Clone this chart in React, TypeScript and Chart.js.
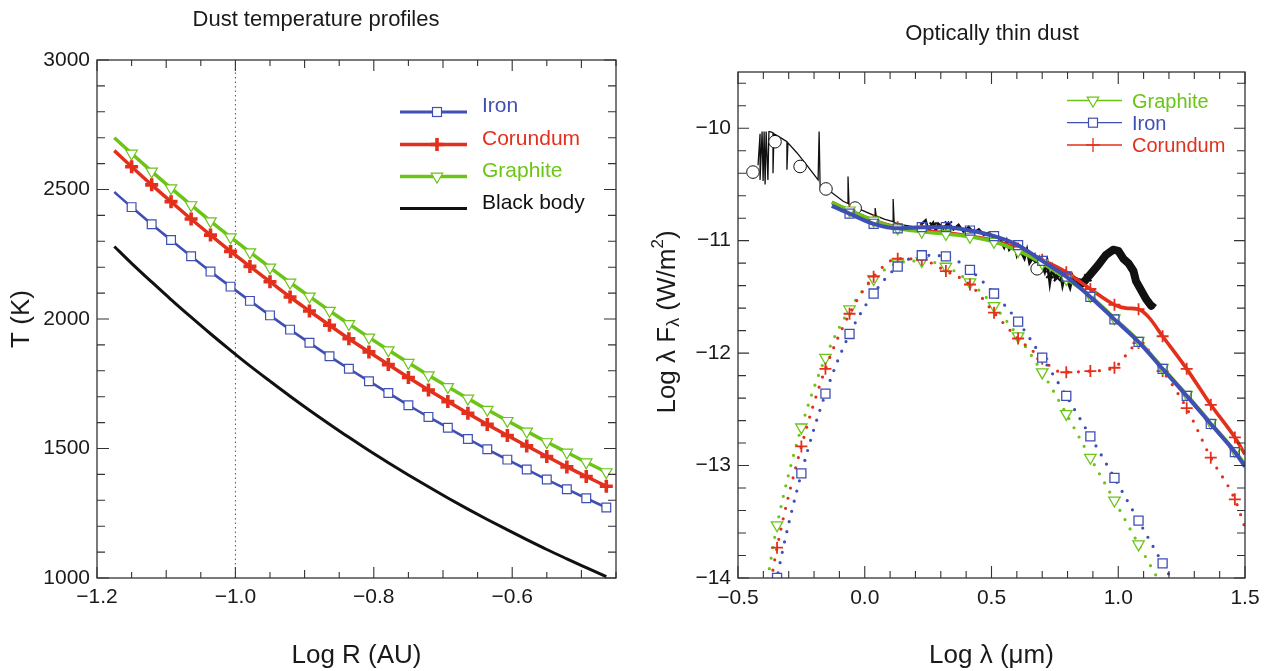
import React, { useEffect, useRef } from "react";
import { Chart, registerables } from "chart.js";

Chart.register(...registerables);

const FONT = "'Liberation Sans', Arial, Helvetica, sans-serif";
const TEXT = "#1a1a1a";
const AXIS = "#333333";
const BLUE = "#3f4fb3";
const RED = "#e3301c";
const GREEN = "#6bc416";
const BLACK = "#111111";

// ---------------- Left panel: Dust temperature profiles ----------------
const LOG_R = [-1.175, -1.15, -1.121, -1.093, -1.064, -1.036, -1.007, -0.979, -0.95, -0.921, -0.893, -0.864, -0.836, -0.807, -0.779, -0.75, -0.721, -0.693, -0.664, -0.636, -0.607, -0.579, -0.55, -0.521, -0.493, -0.464];
const T_IRON = [2490, 2432, 2366, 2305, 2242, 2183, 2125, 2070, 2014, 1959, 1908, 1856, 1808, 1760, 1714, 1667, 1622, 1580, 1537, 1497, 1457, 1419, 1380, 1343, 1308, 1272];
const T_CORUNDUM = [2650, 2588, 2518, 2453, 2386, 2324, 2261, 2203, 2144, 2085, 2031, 1976, 1924, 1873, 1824, 1774, 1726, 1681, 1636, 1593, 1550, 1510, 1469, 1429, 1392, 1354];
const T_GRAPHITE = [2700, 2639, 2570, 2505, 2440, 2378, 2316, 2258, 2199, 2141, 2087, 2032, 1981, 1929, 1880, 1831, 1783, 1738, 1693, 1650, 1607, 1566, 1525, 1485, 1447, 1409];
const T_BLACK_BODY = [2280, 2215, 2143, 2075, 2007, 1943, 1879, 1819, 1760, 1702, 1648, 1594, 1543, 1492, 1445, 1398, 1352, 1309, 1266, 1226, 1186, 1148, 1110, 1074, 1040, 1005];
const REF_LOG_R = -1.0;
const LEFT_X_TICKS = [-1.2, -1.0, -0.8, -0.6];
const LEFT_X_LABELS = ["−1.2", "−1.0", "−0.8", "−0.6"];
const LEFT_Y_TICKS = [1000, 1500, 2000, 2500, 3000];
const LEFT_Y_LABELS = ["1000", "1500", "2000", "2500", "3000"];

// ---------------- Right panel: Optically thin dust ----------------
const MODEL_X = [-0.13, -0.06, 0.035, 0.13, 0.225, 0.32, 0.415, 0.51, 0.605, 0.7, 0.795, 0.89, 0.985, 1.08, 1.175, 1.27, 1.365, 1.46, 1.5];
const GRAPHITE_TOTAL = [-10.66, -10.73, -10.82, -10.89, -10.92, -10.94, -10.965, -11.01, -11.09, -11.2, -11.34, -11.49, -11.69, -11.89, -12.13, -12.37, -12.62, -12.87, -12.99];
const IRON_TOTAL = [-10.69, -10.76, -10.85, -10.89, -10.88, -10.88, -10.91, -10.96, -11.04, -11.18, -11.32, -11.5, -11.7, -11.9, -12.14, -12.38, -12.63, -12.88, -13.01];
const CORUNDUM_TOTAL_X = [-0.13, -0.06, 0.035, 0.13, 0.225, 0.32, 0.415, 0.51, 0.605, 0.7, 0.795, 0.89, 0.985, 1.03, 1.08, 1.12, 1.175, 1.27, 1.365, 1.46, 1.5];
const CORUNDUM_TOTAL = [-10.66, -10.73, -10.82, -10.88, -10.91, -10.93, -10.96, -11.0, -11.07, -11.17, -11.28, -11.43, -11.57, -11.6, -11.61, -11.68, -11.85, -12.14, -12.46, -12.75, -12.9];

const DUST_X = [-0.39, -0.346, -0.25, -0.155, -0.06, 0.035, 0.13, 0.225, 0.32, 0.415, 0.51, 0.605, 0.7, 0.795, 0.89, 0.985, 1.08, 1.175, 1.27];
const GRAPHITE_DUST = [-14.1, -13.53, -12.66, -12.04, -11.61, -11.34, -11.2, -11.18, -11.23, -11.37, -11.58, -11.85, -12.17, -12.54, -12.93, -13.31, -13.7, -14.08, -14.45];
const IRON_DUST = [-14.6, -14.0, -13.07, -12.36, -11.83, -11.47, -11.23, -11.13, -11.14, -11.26, -11.47, -11.72, -12.04, -12.38, -12.74, -13.11, -13.49, -13.87, -14.25];
const CORUNDUM_DUST_X = [-0.39, -0.346, -0.25, -0.155, -0.06, 0.035, 0.13, 0.225, 0.32, 0.415, 0.51, 0.605, 0.7, 0.75, 0.795, 0.89, 0.985, 1.03, 1.08, 1.175, 1.27, 1.365, 1.46, 1.5];
const CORUNDUM_DUST = [-14.3, -13.73, -12.83, -12.14, -11.65, -11.32, -11.16, -11.17, -11.27, -11.39, -11.64, -11.87, -12.05, -12.15, -12.17, -12.16, -12.13, -12.02, -11.91, -12.16, -12.49, -12.93, -13.3, -13.55];

const SPEC_X = [-0.421, -0.413, -0.413, -0.405, -0.401, -0.397, -0.393, -0.389, -0.382, -0.378, -0.374, -0.362, -0.362, -0.358, -0.342, -0.307, -0.307, -0.303, -0.267, -0.228, -0.184, -0.18, -0.176, -0.137, -0.085, -0.066, -0.066, -0.062, -0.03, 0.041, 0.041, 0.045, 0.08, 0.112, 0.112, 0.116, 0.15, 0.2, 0.25];
const SPEC_Y = [-10.33, -10.05, -10.46, -10.03, -10.47, -10.03, -10.5, -10.03, -10.46, -10.03, -10.03, -10.04, -10.4, -10.05, -10.07, -10.12, -10.37, -10.13, -10.22, -10.33, -10.46, -10.03, -10.52, -10.56, -10.65, -10.67, -10.43, -10.68, -10.71, -10.78, -10.71, -10.78, -10.81, -10.83, -10.63, -10.84, -10.86, -10.88, -10.88];
const NOISY_X = [0.22, 0.24, 0.25, 0.27, 0.28, 0.29, 0.31, 0.33, 0.35, 0.37, 0.39, 0.41, 0.43, 0.45, 0.47, 0.49, 0.51, 0.53, 0.55, 0.56, 0.57, 0.59, 0.6, 0.61, 0.63, 0.64, 0.65, 0.67, 0.68, 0.69, 0.71, 0.72, 0.73, 0.74, 0.75, 0.77, 0.78, 0.79, 0.81, 0.82, 0.83, 0.85];
const NOISY_Y = [-10.86, -10.82, -10.9, -10.84, -10.91, -10.85, -10.89, -10.84, -10.9, -10.86, -10.92, -10.88, -10.93, -10.9, -10.95, -10.93, -10.98, -10.97, -11.06, -11.0, -11.08, -11.03, -11.13, -11.07, -11.16, -11.08, -11.2, -11.13, -11.24, -11.16, -11.28, -11.19, -11.38, -11.24, -11.33, -11.27, -11.4, -11.3, -11.42, -11.32, -11.38, -11.42];
const BUMP_X = [0.83, 0.86, 0.89, 0.92, 0.95, 0.98, 1.0, 1.02, 1.04, 1.06, 1.07, 1.09, 1.11, 1.13, 1.14];
const BUMP_Y = [-11.36, -11.38, -11.3, -11.22, -11.13, -11.08, -11.09, -11.16, -11.2, -11.27, -11.36, -11.44, -11.52, -11.58, -11.55];
const CROSS_X = [0.27, 0.33, 0.62, 0.66, 0.73, 0.76, 0.86, 0.88];
const CROSS_Y = [-10.87, -10.86, -11.1, -11.16, -11.3, -11.33, -11.38, -11.33];
const PHOT_X = [-0.441, -0.354, -0.255, -0.153, -0.038, 0.68];
const PHOT_Y = [-10.39, -10.12, -10.34, -10.54, -10.71, -11.25];

const RIGHT_X_TICKS = [-0.5, 0, 0.5, 1.0, 1.5];
const RIGHT_X_LABELS = ["−0.5", "0.0", "0.5", "1.0", "1.5"];
const RIGHT_Y_TICKS = [-14, -13, -12, -11, -10];
const RIGHT_Y_LABELS = ["−14", "−13", "−12", "−11", "−10"];

// ---------------- helpers ----------------
const pts = (xs: number[], ys: number[]) => xs.map((x, i) => ({ x, y: ys[i] }));
const radii = (n: number, r: number, skip: number[]) => Array.from({ length: n }, (_, i) => (skip.includes(i) ? 0 : r));

type TickMark = { v: number; len: number };
function tickMarks(start: number, end: number, step: number, major: number, mid: number | null, lens: [number, number, number]): TickMark[] {
  const out: TickMark[] = [];
  const k0 = Math.ceil(start / step - 1e-6);
  const k1 = Math.floor(end / step + 1e-6);
  const isMult = (v: number, m: number) => Math.abs(v / m - Math.round(v / m)) < 1e-6;
  for (let k = k0; k <= k1; k++) {
    const v = k * step;
    let len = lens[0];
    if (isMult(v, major)) len = lens[2];
    else if (mid !== null && isMult(v, mid)) len = lens[1];
    out.push({ v, len });
  }
  return out;
}

function drawMarker(ctx: CanvasRenderingContext2D, kind: string, x: number, y: number, size: number, color: string, lw: number) {
  ctx.save();
  ctx.strokeStyle = color;
  ctx.lineWidth = lw;
  ctx.fillStyle = "#ffffff";
  if (kind === "square") {
    ctx.fillRect(x - size / 2, y - size / 2, size, size);
    ctx.strokeRect(x - size / 2, y - size / 2, size, size);
  } else if (kind === "plus") {
    ctx.beginPath();
    ctx.moveTo(x - size, y);
    ctx.lineTo(x + size, y);
    ctx.moveTo(x, y - size);
    ctx.lineTo(x, y + size);
    ctx.stroke();
  } else if (kind === "tri") {
    ctx.beginPath();
    ctx.moveTo(x, y + size);
    ctx.lineTo(x - size * 0.866, y - size / 2);
    ctx.lineTo(x + size * 0.866, y - size / 2);
    ctx.closePath();
    ctx.fill();
    ctx.stroke();
  }
  ctx.restore();
}

type LegendItem = { label: string; color: string; textColor: string; marker: string | null; msize: number; mlw: number; lw: number; y: number };
type FrameCfg = {
  id: string;
  xTicks: TickMark[];
  yTicks: TickMark[];
  title: string;
  titleX: number;
  titleY: number;
  titleSize: number;
  legend: { x1: number; x2: number; xm: number; xt: number; font: number; dy: number; items: LegendItem[] };
  extra?: (ctx: CanvasRenderingContext2D, chart: any) => void;
};

function framePlugin(cfg: FrameCfg) {
  return {
    id: cfg.id,
    afterDraw(chart: any) {
      const { ctx, chartArea: a, scales } = chart;
      const xs = scales.x;
      const ys = scales.y;
      ctx.save();
      ctx.strokeStyle = AXIS;
      ctx.lineWidth = 1.3;
      ctx.strokeRect(a.left, a.top, a.right - a.left, a.bottom - a.top);
      ctx.lineWidth = 1.1;
      ctx.beginPath();
      for (const t of cfg.xTicks) {
        const px = xs.getPixelForValue(t.v);
        ctx.moveTo(px, a.bottom);
        ctx.lineTo(px, a.bottom - t.len);
        ctx.moveTo(px, a.top);
        ctx.lineTo(px, a.top + t.len);
      }
      for (const t of cfg.yTicks) {
        const py = ys.getPixelForValue(t.v);
        ctx.moveTo(a.left, py);
        ctx.lineTo(a.left + t.len, py);
        ctx.moveTo(a.right, py);
        ctx.lineTo(a.right - t.len, py);
      }
      ctx.stroke();

      ctx.fillStyle = TEXT;
      ctx.font = `${cfg.titleSize}px ${FONT}`;
      ctx.textAlign = "center";
      ctx.textBaseline = "middle";
      ctx.fillText(cfg.title, cfg.titleX, cfg.titleY);

      const L = cfg.legend;
      for (const it of L.items) {
        ctx.strokeStyle = it.color;
        ctx.lineWidth = it.lw;
        ctx.beginPath();
        ctx.moveTo(L.x1, it.y);
        ctx.lineTo(L.x2, it.y);
        ctx.stroke();
        if (it.marker) drawMarker(ctx, it.marker, L.xm, it.y, it.msize, it.color, it.mlw);
        ctx.fillStyle = it.textColor;
        ctx.font = `${L.font}px ${FONT}`;
        ctx.textAlign = "left";
        ctx.textBaseline = "alphabetic";
        ctx.fillText(it.label, L.xt, it.y + L.dy);
      }
      if (cfg.extra) cfg.extra(ctx, chart);
      ctx.restore();
    },
  };
}

function axisCommon(ticksArr: number[], labels: string[], pad: number) {
  return {
    type: "linear" as const,
    grid: { display: false, drawTicks: false },
    border: { display: false },
    afterBuildTicks: (s: any) => {
      s.ticks = ticksArr.map((v) => ({ value: v }));
    },
    ticks: {
      autoSkip: false,
      maxRotation: 0,
      padding: pad,
      color: TEXT,
      font: { size: 21, family: FONT },
      callback: (_v: any, i: number) => labels[i],
    },
  };
}

function leftConfig(): any {
  return {
    type: "line",
    data: {
      datasets: [
        {
          label: "Graphite",
          data: pts(LOG_R, T_GRAPHITE),
          borderColor: GREEN,
          borderWidth: 3.5,
          pointStyle: "triangle",
          rotation: 180,
          pointRadius: radii(LOG_R.length, 6.6, [0]),
          pointBorderColor: GREEN,
          pointBackgroundColor: "#ffffff",
          pointBorderWidth: 1.2,
          cubicInterpolationMode: "monotone",
          order: 3,
        },
        {
          label: "Corundum",
          data: pts(LOG_R, T_CORUNDUM),
          borderColor: RED,
          borderWidth: 3.5,
          pointStyle: "cross",
          pointRadius: radii(LOG_R.length, 6.5, [0]),
          pointBorderColor: RED,
          pointBorderWidth: 3.6,
          cubicInterpolationMode: "monotone",
          order: 2,
        },
        {
          label: "Iron",
          data: pts(LOG_R, T_IRON),
          borderColor: BLUE,
          borderWidth: 2.6,
          pointStyle: "rect",
          pointRadius: radii(LOG_R.length, 6.2, [0]),
          pointBorderColor: BLUE,
          pointBackgroundColor: "#ffffff",
          pointBorderWidth: 1.2,
          cubicInterpolationMode: "monotone",
          order: 1,
        },
        {
          label: "Black body",
          data: pts(LOG_R, T_BLACK_BODY),
          borderColor: BLACK,
          borderWidth: 3,
          pointRadius: 0,
          cubicInterpolationMode: "monotone",
          order: 4,
        },
        {
          label: "ref",
          data: [
            { x: REF_LOG_R, y: LEFT_Y_TICKS[0] },
            { x: REF_LOG_R, y: LEFT_Y_TICKS[LEFT_Y_TICKS.length - 1] },
          ],
          borderColor: "#555555",
          borderWidth: 1,
          borderDash: [1.5, 3],
          pointRadius: 0,
          order: 5,
        },
      ],
    },
    options: {
      animation: false,
      responsive: false,
      devicePixelRatio: 1,
      layout: { padding: { left: 0, right: 20, top: 60, bottom: 0 } },
      plugins: { legend: { display: false }, tooltip: { enabled: false }, title: { display: false } },
      scales: {
        x: {
          ...axisCommon(LEFT_X_TICKS, LEFT_X_LABELS, 7),
          position: "bottom",
          min: -1.2,
          max: -0.45,
          afterFit: (s: any) => {
            s.height = 93;
          },
          title: { display: true, text: "Log R (AU)", color: TEXT, font: { size: 26, family: FONT }, padding: { top: 0, bottom: 0 } },
        },
        y: {
          ...axisCommon(LEFT_Y_TICKS, LEFT_Y_LABELS, 7),
          position: "left",
          min: 1000,
          max: 3000,
          afterFit: (s: any) => {
            s.width = 97;
          },
          title: { display: true, text: "T (K)", color: TEXT, font: { size: 26, family: FONT }, padding: { top: 6, bottom: 0 } },
        },
      },
    },
    plugins: [
      framePlugin({
        id: "frameLeft",
        xTicks: tickMarks(-1.2, -0.45, 0.05, 0.2, 0.1, [6, 8, 11]),
        yTicks: tickMarks(1000, 3000, 100, 500, null, [8, 8, 12]),
        title: "Dust temperature profiles",
        titleX: 316,
        titleY: 20,
        titleSize: 22,
        legend: {
          x1: 400,
          x2: 467,
          xm: 437,
          xt: 482,
          font: 21,
          dy: 0,
          items: [
            { label: "Iron", color: BLUE, textColor: BLUE, marker: "square", msize: 9, mlw: 1.2, lw: 3, y: 112 },
            { label: "Corundum", color: RED, textColor: RED, marker: "plus", msize: 6.5, mlw: 3.6, lw: 3.5, y: 144.5 },
            { label: "Graphite", color: GREEN, textColor: GREEN, marker: "tri", msize: 6.6, mlw: 1.2, lw: 3.5, y: 176.5 },
            { label: "Black body", color: BLACK, textColor: BLACK, marker: null, msize: 0, mlw: 0, lw: 3.2, y: 208.5 },
          ],
        },
      }),
    ],
  };
}

function rightConfig(): any {
  const dotted = (label: string, xs: number[], ys: number[], color: string, style: string, r: number, skip: number[], order: number, extra: any = {}) => ({
    label,
    data: pts(xs, ys),
    borderColor: color,
    borderWidth: 3.2,
    borderDash: [0, 10.5],
    borderCapStyle: "round",
    pointStyle: style,
    pointRadius: radii(xs.length, r, skip),
    pointBorderColor: color,
    pointBackgroundColor: "#ffffff",
    pointBorderWidth: 1.3,
    cubicInterpolationMode: "monotone",
    order,
    ...extra,
  });
  return {
    type: "line",
    data: {
      datasets: [
        {
          label: "Iron",
          data: pts(MODEL_X, IRON_TOTAL),
          borderColor: BLUE,
          borderWidth: 4,
          pointStyle: "rect",
          pointRadius: radii(MODEL_X.length, 6.4, [0, MODEL_X.length - 1]),
          pointBorderColor: BLUE,
          pointBackgroundColor: "rgba(255,255,255,0)",
          pointBorderWidth: 1.2,
          cubicInterpolationMode: "monotone",
          order: 1,
        },
        {
          label: "Graphite",
          data: pts(MODEL_X, GRAPHITE_TOTAL),
          borderColor: GREEN,
          borderWidth: 3.5,
          pointStyle: "triangle",
          rotation: 180,
          pointRadius: radii(MODEL_X.length, 6.6, [0, MODEL_X.length - 1]),
          pointBorderColor: GREEN,
          pointBackgroundColor: "#ffffff",
          pointBorderWidth: 1.2,
          cubicInterpolationMode: "monotone",
          order: 2,
        },
        {
          label: "Corundum",
          data: pts(CORUNDUM_TOTAL_X, CORUNDUM_TOTAL),
          borderColor: RED,
          borderWidth: 3.6,
          pointStyle: "cross",
          pointRadius: radii(CORUNDUM_TOTAL_X.length, 6, [0, 13, 15, CORUNDUM_TOTAL_X.length - 1]),
          pointBorderColor: RED,
          pointBorderWidth: 1.8,
          cubicInterpolationMode: "monotone",
          order: 3,
        },
        {
          label: "phot",
          data: pts(PHOT_X, PHOT_Y),
          showLine: false,
          pointStyle: "circle",
          pointRadius: 6.3,
          pointBorderColor: BLACK,
          pointBackgroundColor: "#ffffff",
          pointBorderWidth: 1,
          order: 4,
        },
        {
          label: "cross",
          data: pts(CROSS_X, CROSS_Y),
          showLine: false,
          pointStyle: "crossRot",
          pointRadius: 5,
          pointBorderColor: BLACK,
          pointBorderWidth: 2,
          order: 5,
        },
        {
          label: "bump",
          data: pts(BUMP_X, BUMP_Y),
          borderColor: BLACK,
          borderWidth: 8,
          borderJoinStyle: "round",
          pointRadius: 0,
          tension: 0,
          order: 6,
        },
        {
          label: "noisy",
          data: pts(NOISY_X, NOISY_Y),
          borderColor: BLACK,
          borderWidth: 2.6,
          pointRadius: 0,
          tension: 0,
          order: 7,
        },
        {
          label: "spectrum",
          data: pts(SPEC_X, SPEC_Y),
          borderColor: BLACK,
          borderWidth: 1.3,
          pointRadius: 0,
          tension: 0,
          order: 8,
        },
        dotted("Iron dust", DUST_X, IRON_DUST, BLUE, "rect", 6.4, [0, DUST_X.length - 1], 9),
        dotted("Corundum dust", CORUNDUM_DUST_X, CORUNDUM_DUST, RED, "cross", 6, [0, 13, 17, CORUNDUM_DUST_X.length - 1], 10, { pointBorderWidth: 1.8 }),
        dotted("Graphite dust", DUST_X, GRAPHITE_DUST, GREEN, "triangle", 6.6, [0, DUST_X.length - 2, DUST_X.length - 1], 11, { rotation: 180 }),
      ],
    },
    options: {
      animation: false,
      responsive: false,
      devicePixelRatio: 1,
      layout: { padding: { left: 0, right: 27, top: 72, bottom: 0 } },
      plugins: { legend: { display: false }, tooltip: { enabled: false }, title: { display: false } },
      scales: {
        x: {
          ...axisCommon(RIGHT_X_TICKS, RIGHT_X_LABELS, 8),
          position: "bottom",
          min: -0.5,
          max: 1.5,
          afterFit: (s: any) => {
            s.height = 93;
          },
          title: { display: true, text: "Log λ (μm)", color: TEXT, font: { size: 26, family: FONT }, padding: { top: 0, bottom: 0 } },
        },
        y: {
          ...axisCommon(RIGHT_Y_TICKS, RIGHT_Y_LABELS, 7),
          position: "left",
          min: -14,
          max: -9.5,
          afterFit: (s: any) => {
            s.width = 102;
          },
          title: { display: false },
        },
      },
    },
    plugins: [
      framePlugin({
        id: "frameRight",
        xTicks: tickMarks(-0.5, 1.5, 0.1, 0.5, null, [7, 7, 12]),
        yTicks: tickMarks(-14, -9.5, 0.2, 1, null, [8, 8, 11]),
        title: "Optically thin dust",
        titleX: 356,
        titleY: 34,
        titleSize: 22,
        legend: {
          x1: 431,
          x2: 486,
          xm: 457,
          xt: 496,
          font: 20,
          dy: 7,
          items: [
            { label: "Graphite", color: GREEN, textColor: GREEN, marker: "tri", msize: 6.6, mlw: 1.2, lw: 1.3, y: 100.5 },
            { label: "Iron", color: BLUE, textColor: BLUE, marker: "square", msize: 9, mlw: 1.2, lw: 1.3, y: 122.7 },
            { label: "Corundum", color: RED, textColor: RED, marker: "plus", msize: 7, mlw: 1.3, lw: 1.3, y: 145 },
          ],
        },
        extra: (ctx, chart) => {
          const a = chart.chartArea;
          const parts = [
            { t: "Log λ F", s: 26, dy: 0 },
            { t: "λ", s: 18, dy: 6 },
            { t: " (W/m", s: 26, dy: 0 },
            { t: "2", s: 17, dy: -10 },
            { t: ")", s: 26, dy: 0 },
          ];
          ctx.save();
          ctx.translate(32, (a.top + a.bottom) / 2 - 3);
          ctx.rotate(-Math.PI / 2);
          ctx.fillStyle = TEXT;
          ctx.textAlign = "left";
          ctx.textBaseline = "middle";
          let total = 0;
          for (const p of parts) {
            ctx.font = `${p.s}px ${FONT}`;
            total += ctx.measureText(p.t).width;
          }
          let x = -total / 2;
          for (const p of parts) {
            ctx.font = `${p.s}px ${FONT}`;
            ctx.fillText(p.t, x, p.dy);
            x += ctx.measureText(p.t).width;
          }
          ctx.restore();
        },
      }),
    ],
  };
}

export default function App() {
  const leftRef = useRef<HTMLCanvasElement>(null);
  const rightRef = useRef<HTMLCanvasElement>(null);
  useEffect(() => {
    Chart.defaults.font.family = FONT;
    const c1 = new Chart(leftRef.current as HTMLCanvasElement, leftConfig());
    const c2 = new Chart(rightRef.current as HTMLCanvasElement, rightConfig());
    return () => {
      c1.destroy();
      c2.destroy();
    };
  }, []);
  return (
    <div style={{ position: "fixed", left: 0, top: 0, width: 1272, height: 671, background: "#ffffff" }}>
      <canvas ref={leftRef} width={636} height={671} style={{ position: "absolute", left: 0, top: 0, width: 636, height: 671 }} />
      <canvas ref={rightRef} width={636} height={671} style={{ position: "absolute", left: 636, top: 0, width: 636, height: 671 }} />
    </div>
  );
}
